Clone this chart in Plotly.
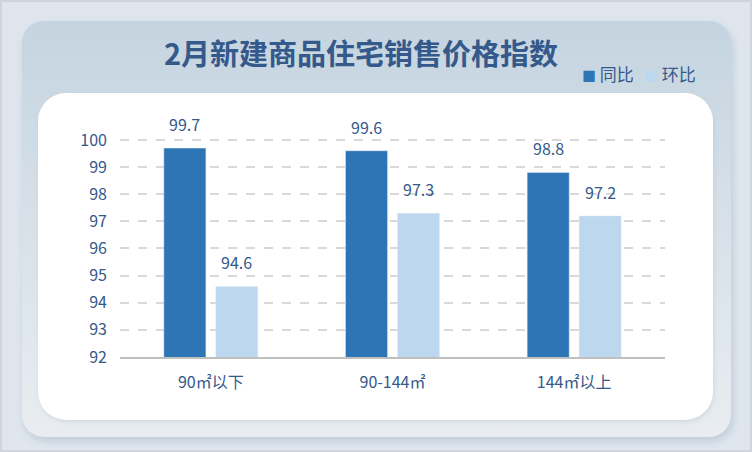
import base64
import plotly.graph_objects as go

# 数据
categories = ["90㎡以下", "90-144㎡", "144㎡以上"]
yoy = [99.7, 99.6, 98.8]   # 同比
mom = [94.6, 97.3, 97.2]   # 环比
series_names = ["同比", "环比"]
y_ticks = [92, 93, 94, 95, 96, 97, 98, 99, 100]

W, H = 752, 452
L, R, T, B = 120, 87, 138, 95
PW, PH = W - L - R, H - T - B

TEXT = "#34598a"
DARK = "#2e75b6"
LIGHT = "#bdd7ee"
FONT = "Noto Sans CJK SC"

# background panels drawn as one svg picture behind the plot
svg = f"""<svg xmlns='http://www.w3.org/2000/svg' width='{W}' height='{H}' viewBox='0 0 {W} {H}' preserveAspectRatio='none'>
<defs>
<linearGradient id='g' x1='0' y1='0' x2='0' y2='1'>
<stop offset='0' stop-color='#c4d4e0'/><stop offset='0.45' stop-color='#d6e0e8'/><stop offset='1' stop-color='#e9edf1'/>
</linearGradient>
<filter id='s' x='-5%' y='-5%' width='112%' height='115%'>
<feDropShadow dx='2' dy='4' stdDeviation='4' flood-color='#9fb1c4' flood-opacity='0.5'/>
</filter>
<filter id='s2' x='-5%' y='-5%' width='112%' height='115%'>
<feDropShadow dx='1' dy='2' stdDeviation='2' flood-color='#b8c4d0' flood-opacity='0.5'/>
</filter>
</defs>
<rect x='0' y='0' width='{W}' height='{H}' fill='#dfe6ed' stroke='#cfd5da' stroke-width='4'/>
<rect x='22' y='21' width='709' height='416' rx='22' fill='url(#g)' filter='url(#s)'/>
<rect x='38' y='93' width='675' height='327' rx='28' fill='#ffffff' filter='url(#s2)'/>
</svg>"""
bg_src = "data:image/svg+xml;base64," + base64.b64encode(svg.encode("utf-8")).decode()

fig = go.Figure()
fig.add_trace(go.Bar(name=series_names[0], x=categories, y=yoy, marker_color=DARK, hoverinfo="skip"))
fig.add_trace(go.Bar(name=series_names[1], x=categories, y=mom, marker_color=LIGHT, hoverinfo="skip"))

# value labels above the bars
for vals, shift in ((yoy, -26), (mom, 26)):
    for cat, v in zip(categories, vals):
        fig.add_annotation(x=cat, y=v, text=f"{v:.1f}", showarrow=False,
                           xshift=shift, yshift=24, yanchor="middle",
                           font=dict(family=FONT, size=16, color=TEXT))

# legend written by hand, the squares sit close to the text
legend_x = [580, 642]
for name, col, lx in zip(series_names, [DARK, LIGHT], legend_x):
    fig.add_annotation(xref="paper", yref="paper", x=(lx - L) / PW, y=1 + (T - 73) / PH,
                       xanchor="left", yanchor="middle", showarrow=False,
                       text=f"<span style='color:{col};font-size:14px'>■</span> {name}",
                       font=dict(family=FONT, size=17, color=TEXT))

fig.add_layout_image(dict(
    source=bg_src, xref="paper", yref="paper",
    x=-L / PW, y=1 + T / PH, sizex=W / PW, sizey=H / PH,
    xanchor="left", yanchor="top", sizing="stretch", layer="below"))

fig.update_layout(
    width=W, height=H,
    margin=dict(l=L, r=R, t=T, b=B),
    paper_bgcolor="#dfe6ed",
    plot_bgcolor="rgba(0,0,0,0)",
    barmode="group", bargap=0.428, bargroupgap=0.19,
    title=dict(text="<b>2月新建商品住宅销售价格指数</b>", x=361 / W, xanchor="center",
               y=1 - 55 / H, yanchor="middle",
               font=dict(family=FONT, size=29, color=TEXT)),
    font=dict(family=FONT, color=TEXT),
    showlegend=False,
)

fig.update_xaxes(showgrid=False, showline=True, linecolor="#bfbfbf", linewidth=2,
                 ticks="", ticklabelstandoff=10,
                 tickfont=dict(family=FONT, size=16, color=TEXT))
# a little headroom so the dashed line at 100 is still drawn
fig.update_yaxes(range=[92, 100.07], tickvals=y_ticks, showgrid=True, gridcolor="#d9d9d9",
                 gridwidth=1.5, griddash="dash", zeroline=False, showline=False,
                 ticks="", ticklabelstandoff=12,
                 tickfont=dict(family=FONT, size=16, color=TEXT))

fig.write_html("out.html", config={"displayModeBar": False},
               post_script="document.body.style.margin='0';")
